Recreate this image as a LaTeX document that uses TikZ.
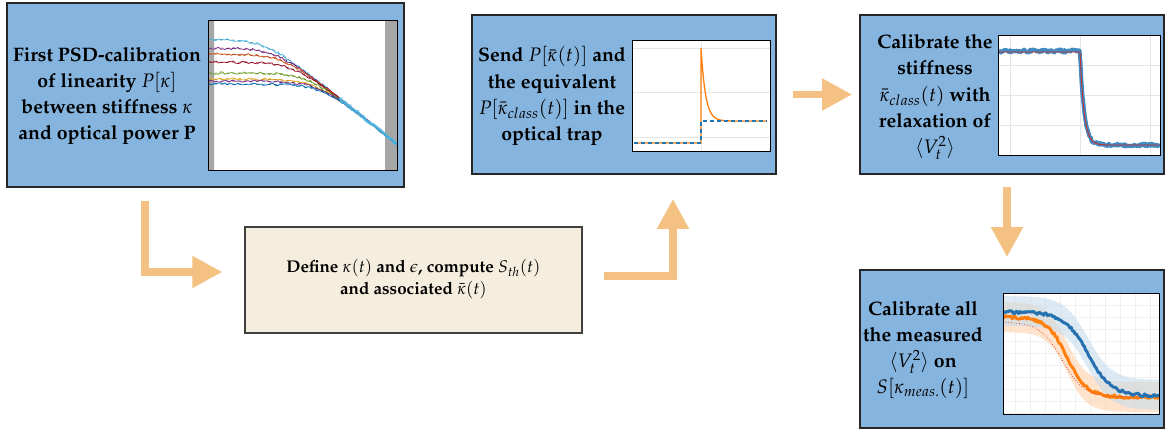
\documentclass[tikz,border=0pt]{standalone}
\usepackage[T1]{fontenc}
\usepackage{mathpazo}
\usetikzlibrary{positioning}
\usetikzlibrary{arrows.meta}
\definecolor{figAzul}{RGB}{133,180,222}
\definecolor{figCrema}{RGB}{245,238,223}
\definecolor{figFlecha}{RGB}{245,193,130}
\definecolor{mAzul}{RGB}{0,114,189}
\definecolor{mNaranja}{RGB}{217,83,25}
\definecolor{mAmarillo}{RGB}{237,177,32}
\definecolor{mVioleta}{RGB}{126,47,142}
\definecolor{mVerde}{RGB}{119,172,48}
\definecolor{mCeleste}{RGB}{77,190,238}
\definecolor{mRojo}{RGB}{162,20,47}
\definecolor{pAzul}{RGB}{31,119,180}
\definecolor{pNaranja}{RGB}{255,127,14}
\definecolor{pRojo}{RGB}{214,39,40}
\tikzset{
  bloque/.style={
    rectangle, draw=black!85, line width=1.6pt, fill=figAzul, inner sep=0pt
  },
  bloquec/.style={
    rectangle, draw=black!75, line width=1.2pt, fill=figCrema, inner sep=0pt
  },
  texto/.style={align=center, font=\fontsize{19.5}{26.2}\selectfont\bfseries, inner sep=0pt},
  grafico/.style={draw=black, line width=1pt},
  rejilla/.style={draw=black!10, line width=0.6pt},
  flecha/.style={-{Triangle[length=30pt,width=30pt]}, line width=7.5pt, draw=figFlecha}
}

\begin{document}
\begin{tikzpicture}[x=1pt, y=-1pt]
  \useasboundingbox (0,0) rectangle (1168,432);

  \node[bloque, minimum width=397pt, minimum height=184pt] (psd) at (205.5,95) {};
  \node[bloque, minimum width=304pt, minimum height=159pt] (send) at (624,94.5) {};
  \node[bloque, minimum width=304pt, minimum height=159pt] (calib) at (1012,94.5) {};
  \node[bloque, minimum width=304pt, minimum height=158pt] (all) at (1012,349) {};
  \node[bloquec, minimum width=337pt, minimum height=106pt] (define) at (413.5,280) {};

  \node[texto] (psdTxt) at (107,96) {First PSD-calibration\\of linearity $P[\kappa]$\\between stiffness $\kappa$\\and optical power P};
  \node[texto] (sendTxt) at (552,96) {Send $P[\bar{\kappa}(t)]$ and\\the equivalent\\$P[\bar{\kappa}_{class}(t)]$ in the\\optical trap};
  \node[texto] (calibTxt) at (935,97) {Calibrate the\\stiffness\\$\bar{\kappa}_{class}(t)$ with\\relaxation of\\$\langle V_t^2\rangle$};
  \node[texto] (allTxt) at (923,350) {Calibrate all\\the measured\\$\langle V_t^2\rangle$ on\\$S[\kappa_{meas.}(t)]$};
  \node[texto, font=\fontsize{17}{21.5}\selectfont\bfseries] (defineTxt) at (413.5,279) {Define $\kappa(t)$ and $\epsilon$, compute $S_{th}(t)$\\and associated $\bar{\kappa}(t)$};

  % PSD curves
  \fill[white] (208,20) rectangle (397,170);
  \fill[black!35] (208,20) rectangle (214,170) (385,20) rectangle (397,170);
  \begin{scope}
    \clip (208,20) rectangle (397,170);
    \pgfmathsetseed{7}
    \foreach \p/\col in {39/mCeleste, 48/mVioleta, 54/mNaranja, 62/mRojo, 73/mVerde, 79/mAmarillo, 81/mVioleta, 84/mAzul} {
      \draw[\col, line width=0.8pt] plot[domain=208:397, samples=90]
        (\x, {-6+25*(max((\p+6)/25, 6*(\x-208)/189) + log10(1+exp(-2.3026*abs((\p+6)/25-6*(\x-208)/189)))) + 1.3*rand});
      \draw[\col!70!black, dashed, line width=0.5pt] plot[domain=208:397, samples=40]
        (\x, {-6+25*(max((\p+6)/25, 6*(\x-208)/189) + log10(1+exp(-2.3026*abs((\p+6)/25-6*(\x-208)/189))))});
    }
    \draw[mCeleste, line width=3pt, opacity=0.8] plot[domain=340:397, samples=30]
      (\x, {-6+150*((\x-208)/189) + 1.2*rand});
  \end{scope}
  \draw[grafico] (208,20) rectangle (397,170);

  % step in the trap
  \fill[white] (632,40) rectangle (770,151);
  \foreach \y in {48,92,137} \draw[rejilla] (632,\y) -- (770,\y);
  \draw[rejilla] (701,40) -- (701,151);
  \draw[pNaranja, line width=1.3pt] (634,143) -- (701,143) -- (701,48)
    -- plot[domain=701:767, samples=50] (\x, {121-73*exp(-(\x-701)/4.5)});
  \draw[pAzul, line width=1.3pt, dash pattern=on 4pt off 3pt] (634,143) -- (701,143) -- (701,121) -- (767,121);
  \draw[grafico] (632,40) rectangle (770,151);

  % relaxation
  \fill[white] (998,35) rectangle (1160,155);
  \foreach \x in {1010,1080,1150} \draw[rejilla] (\x,35) -- (\x,155);
  \foreach \y in {65,95,125} \draw[rejilla] (998,\y) -- (1160,\y);
  \begin{scope}
    \clip (998,35) rectangle (1160,155);
    \draw[pAzul, line width=4pt, line join=round, opacity=0.85] plot[domain=999:1159, samples=160]
      (\x, {(\x<1080 ? 51 : 145-94*exp(-max(\x-1080,0)/4)) + 1.6*rand});
    \draw[pRojo, line width=0.8pt] plot[domain=999:1159, samples=161]
      (\x, {\x<1080 ? 52 : 145-93*exp(-max(\x-1080,0)/4)});
  \end{scope}
  \draw[grafico] (998,35) rectangle (1160,155);

  % measured
  \fill[white] (1003,293) rectangle (1159,414);
  \foreach \x in {1015,1030,...,1155} \draw[black!6, line width=0.4pt] (\x,293) -- (\x,414);
  \foreach \y in {305,317,...,413} \draw[black!6, line width=0.4pt] (1003,\y) -- (1159,\y);
  \begin{scope}
    \clip (1003,293) rectangle (1159,414);
    \fill[pNaranja!30, opacity=0.7] plot[domain=1003:1159, samples=60] (\x, {302+80/(1+exp(-(\x-1067)/10))})
      -- plot[domain=1159:1003, samples=60] (\x, {332+80/(1+exp(-(\x-1067)/10))}) -- cycle;
    \fill[pAzul!25, opacity=0.6] plot[domain=1003:1159, samples=60] (\x, {296+84/(1+exp(-(\x-1088)/12))})
      -- plot[domain=1159:1003, samples=60] (\x, {326+84/(1+exp(-(\x-1088)/12))}) -- cycle;
    \draw[pNaranja, line width=3pt, line join=round] plot[domain=1003:1159, samples=120]
      (\x, {317+80/(1+exp(-(\x-1067)/10)) + 1.5*rand});
    \draw[pRojo, line width=0.7pt, dotted] plot[domain=1003:1159, samples=60]
      (\x, {322+75/(1+exp(-(\x-1062)/11))});
    \draw[pAzul, line width=3pt, line join=round] plot[domain=1003:1159, samples=120]
      (\x, {312+84/(1+exp(-(\x-1088)/12)) + 1.5*rand});
    \draw[mVioleta, line width=0.7pt, dotted] plot[domain=1003:1159, samples=60]
      (\x, {312+84/(1+exp(-(\x-1088)/12))});
  \end{scope}
  \draw[grafico] (1003,293) rectangle (1159,414);

  \draw[flecha] ([xshift=-60.5pt, yshift=-13pt]psd.south) |- ([xshift=-22pt, yshift=8pt]define.west);
  \draw[flecha] ([xshift=21pt, yshift=4pt]define.east) -| ([xshift=49pt, yshift=-24pt]send.south);
  \draw[flecha] ([xshift=16pt]send.east) -- ([xshift=-7pt]calib.west);
  \draw[flecha] ([xshift=-5pt, yshift=-12pt]calib.south) -- ([xshift=-5pt, yshift=12pt]all.north);
\end{tikzpicture}
\end{document}
